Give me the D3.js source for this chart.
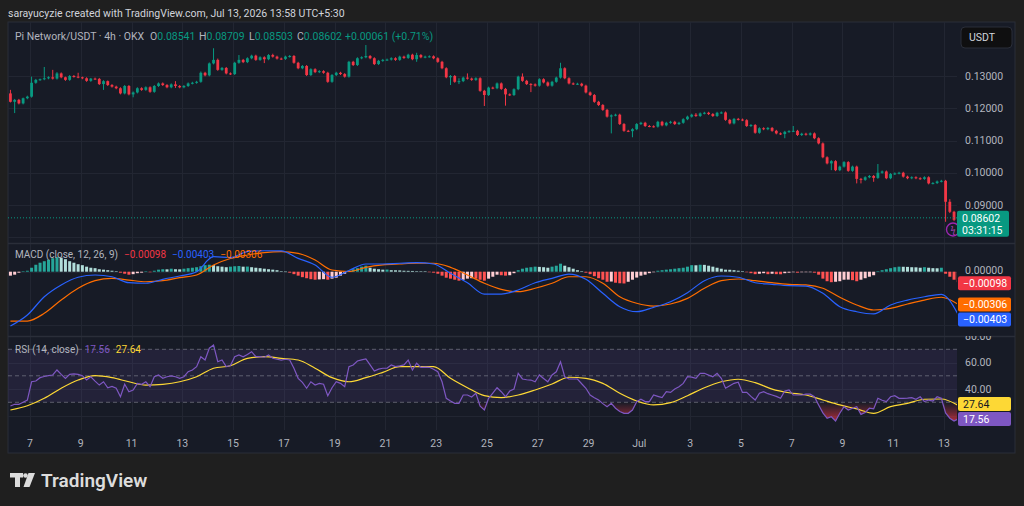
<!DOCTYPE html>
<html>
<head>
<meta charset="utf-8">
<script src="https://cdn.jsdelivr.net/npm/d3@7.9.0/dist/d3.min.js"></script>
<style>
  body { margin: 0; background: #1f1f1f; }
  svg { display: block; font-family: Roboto, "Noto Sans", sans-serif; }
</style>
</head>
<body>
<svg id="chart" width="1024" height="506"></svg>
<script>
// Pi Network/USDT, 4h candles from Jun 6 05:30 to Jul 13 13:30 (UTC+5:30)
const firstOpen = 0.1246;
const closes = [
  .1220,.1226,.1215,.1231,.1236,.1279,.1288,.1290,.1293,.1296,
  .1292,.1308,.1296,.1288,.1300,.1298,.1296,.1293,.1285,.1292,
  .1291,.1275,.1284,.1272,.1267,.1262,.1246,.1269,.1243,.1249,
  .1262,.1257,.1265,.1251,.1269,.1277,.1272,.1265,.1274,.1269,
  .1265,.1269,.1277,.1279,.1282,.1310,.1302,.1339,.1350,.1319,
  .1325,.1308,.1306,.1341,.1350,.1343,.1355,.1363,.1350,.1358,
  .1352,.1365,.1360,.1354,.1353,.1360,.1362,.1341,.1324,.1331,
  .1303,.1321,.1312,.1315,.1310,.1282,.1303,.1310,.1306,.1298,
  .1344,.1334,.1355,.1358,.1362,.1355,.1337,.1347,.1350,.1351,
  .1355,.1350,.1360,.1356,.1366,.1352,.1365,.1358,.1360,.1361,
  .1355,.1344,.1324,.1296,.1300,.1282,.1284,.1295,.1292,.1288,
  .1293,.1254,.1241,.1264,.1262,.1277,.1260,.1243,.1241,.1259,
  .1298,.1285,.1275,.1274,.1270,.1290,.1280,.1270,.1282,.1295,
  .1324,.1293,.1277,.1275,.1276,.1270,.1249,.1241,.1220,.1210,
  .1195,.1174,.1178,.1180,.1151,.1130,.1129,.1135,.1151,.1155,
  .1145,.1144,.1143,.1158,.1147,.1155,.1158,.1151,.1155,.1166,
  .1174,.1180,.1176,.1184,.1186,.1182,.1176,.1186,.1187,.1164,
  .1153,.1167,.1165,.1163,.1145,.1148,.1124,.1138,.1135,.1139,
  .1130,.1122,.1120,.1127,.1129,.1130,.1117,.1121,.1118,.1122,
  .1107,.1091,.1048,.1029,.1036,.1008,.1019,.1033,.1006,.1019,
  .0981,.0978,.0986,.0990,.0984,.1000,.1004,.0983,.0996,.0998,
  .1000,.0988,.0983,.0986,.0983,.0981,.0986,.0967,.0968,.0973,
  .0975,.0910,.0879,.08541,.08602
];
// wick lengths beyond the body, in units of 0.0001 USDT
const wickUp = [
  11,3,3,2,3,19,3,2,35,3,  23,4,3,2,3,3,12,2,3,2,  3,3,3,2,3,3,3,3,3,3,
  3,3,3,3,3,3,3,3,3,10,    3,3,3,3,3,4,3,3,36,4,   3,3,3,3,15,3,3,3,3,3,
  3,3,4,3,3,3,3,3,3,3,     3,3,3,3,3,3,3,3,3,3,    3,3,3,3,34,3,3,3,3,3,
  3,3,3,3,3,3,7,3,3,3,     3,3,3,3,3,3,9,3,13,3,   3,3,3,3,3,3,3,3,3,3,
  3,10,3,3,3,3,3,3,3,3,    17,3,3,3,3,3,3,3,3,3,   3,3,3,3,3,3,3,3,3,3,
  3,3,3,3,3,3,3,3,3,3,     3,3,5,3,3,3,3,3,3,3,    3,3,3,3,3,3,3,3,3,3,
  3,3,3,3,3,15,3,3,3,3,    3,3,3,3,3,3,3,3,3,3,    3,3,3,3,3,27,3,3,3,3,
  3,3,3,3,3,3,3,3,3,3,     3,3,8,3,10.7
];
const wickDn = [
  2,35,3,3,3,3,3,3,3,3,    3,3,3,3,3,3,3,3,3,3,    3,3,18,3,3,3,3,3,3,9,
  3,3,3,3,3,3,3,3,3,6,     3,3,3,3,3,3,3,3,3,3,    3,3,3,3,3,3,3,3,3,3,
  12,3,3,3,3,3,3,3,3,3,    3,3,3,3,3,3,3,3,3,3,    3,3,3,3,3,3,3,3,3,3,
  3,3,3,3,3,3,8,3,3,3,     3,3,3,3,24,3,7,3,3,3,   3,3,34,3,3,3,3,35,3,3,
  3,3,3,24,3,3,3,3,3,3,    3,3,3,3,3,3,3,3,3,3,    3,3,52,3,3,3,3,19,3,3,
  3,3,3,3,3,3,3,3,3,3,     3,3,3,3,3,3,3,3,3,3,    3,3,3,3,3,3,3,3,3,3,
  3,3,3,13,3,3,3,3,3,3,    3,3,3,3,21,3,3,3,3,3,   14,11,3,3,12,3,3,3,3,3,
  3,3,3,3,3,3,3,3,3,3,     3,62,4,4,3.8
];
// MACD histogram per candle, units of 0.00001
const macdHist = [
  -37,-28,-9,2,9,37,65,84,98,112,      126,136,131,117,98,84,70,61,47,37,
  33,23,19,14,9,5,-9,-19,-28,-23,      -14,-9,3,-5,9,19,23,22,28,23,
  22,28,33,37,42,51,61,65,61,51,       47,42,47,51,53,47,48,42,37,33,
  28,23,19,14,5,1,-9,-23,-37,-51,      -61,-70,-75,-72,-70,-75,-65,-56,-37,-19,
  9,23,33,47,56,37,28,23,19,20,        14,13,12,9,8,7,5,4,2,-1,
  -9,-19,-37,-56,-65,-75,-84,-75,-65,-61, -65,-75,-84,-65,-47,-28,-33,-37,-33,-14,
  14,28,37,42,47,45,42,37,47,56,       75,56,42,28,14,5,-9,-23,-42,-61,
  -75,-94,-92,-103,-108,-110,-94,-75,-55,-37, -28,-14,-5,9,14,19,23,28,33,37,
  47,61,60,65,64,56,47,37,28,19,       18,14,9,5,-5,-14,-23,-19,-14,-23,
  -19,-23,-24,-14,-9,-5,-9,-5,-4,-3,   -9,-28,-65,-89,-98,-94,-89,-75,-74,-79,
  -89,-75,-61,-47,-33,5,14,23,33,42,   47,46,45,42,41,37,42,37,33,32,
  37,-19,-47,-75,-98
];
// MACD and signal lines, every 4th candle, units of 0.00001
const macdLine = [
  -508,-405,-234,-124,-52,-31,-47,-103,-108,-71,-40,0,140,131,187,196,194,125,63,
  -52,11,72,72,79,84,72,-15,-103,-209,-209,-171,-103,-62,-22,-71,-202,-327,-374,
  -333,-281,-196,-84,-40,-52,-103,-118,-131,-134,-202,-327,-374,-395,-311,-265,-234,-211,-403
];
const signalLine = [
  -461,-461,-389,-265,-155,-84,-62,-78,-94,-84,-56,-31,63,123,156,178,187,172,109,
  16,2,41,63,72,79,79,41,-31,-108,-165,-187,-155,-108,-47,-47,-108,-234,-295,
  -321,-302,-249,-155,-84,-68,-84,-103,-118,-124,-155,-239,-311,-358,-342,-302,-265,-239,-306
];
// RSI(14) per candle
const rsiValues = [
  27.2,28.5,28.5,30,31.7,45.5,46.1,48.6,49.5,50.1,   50.6,54.4,51.1,48.1,51.1,51.5,51.1,50.1,46.8,49.3,
  46,43,45.5,41,42,40.6,34.2,43.6,38,39.3,           44.3,43.6,45.5,41.8,49.3,50.6,48.1,49.3,50,49.3,
  48.1,49.3,53.1,54.4,56.9,64.4,61.9,70.8,73.2,60.6, 61.9,56.9,57.7,64.4,65.7,64.4,66,68.2,64.4,64.4,
  64,65.7,63.2,62.5,61.9,62.5,61.9,55.7,48.1,45,     40.6,45.5,43,44.3,43.6,35,41,45.5,44.3,41.8,
  56.9,58.2,61.2,62,62.7,58.2,53.6,55,55.7,55.7,     58.2,56.9,57.5,58.2,61.9,54.4,59.5,56.4,56.5,56.4,
  55,53.1,45.5,33,31,29.2,29.2,35.5,35.5,34,         36.8,27,24.2,33,37,41,38,34.2,38.5,40,
  51.9,47.6,47,46.8,45.5,50.6,48,45.5,50.6,53,       60.6,49.3,47.6,47.6,47.6,44,40.6,35.5,33.5,31.7,
  29,26.7,29.2,25.5,23,21.7,21.7,24.2,30.5,32.3,     30.5,30.5,35.5,34.5,33.5,38,37.5,40,41.8,44.3,
  49.3,49,48.1,51.9,51.9,50.5,49.3,51.9,48.1,40.6,   42.5,44.3,45.2,37.5,37.5,34.5,31.7,36.8,38,36.5,
  35.5,34.5,33,38.6,39.3,35.5,35.5,35.5,36.1,36.1,   34.2,28,22,17.9,19.1,15.9,21.7,26.7,24.2,25.5,
  26.7,20.9,22.3,25.5,25,33,31.5,30.5,34.2,35,       33,33,33.2,33.5,32.3,34.2,30.5,31.7,31,34.2,
  33,22,18,15.9,17.56
];
// RSI moving average, every 4th candle
const rsiMa = [
  24.2,27.4,33,40.6,46.8,50.1,48.6,45.5,43,43.6,45.5,49.3,55.7,57.6,63.2,64.4,63.2,61.9,55.7,
  48.6,45.5,48.6,52.6,56.9,56.9,56.9,48.1,41,35,33.5,35.5,39.3,43.8,48.9,48.1,44.3,36.8,31,
  28,29.7,35,41,45.5,47.4,44.8,40,37.2,35.5,31.7,28,25,21.7,26.7,29.2,32.3,32.5,27.64
];
const tickDates = ["2026-06-07","2026-06-09","2026-06-11","2026-06-13","2026-06-15","2026-06-17",
  "2026-06-19","2026-06-21","2026-06-23","2026-06-25","2026-06-27","2026-06-29","2026-07-01",
  "2026-07-03","2026-07-05","2026-07-07","2026-07-09","2026-07-11","2026-07-13"];
const tickLabels = ["7","9","11","13","15","17","19","21","23","25","27","29","Jul","3","5","7","9","11","13"];
const priceTicks = [0.13, 0.12, 0.11, 0.10, 0.09, 0.08];
const macdTicks = [0, -0.005];
const rsiTicks = [80, 60, 40, 20];
const rsiLevels = [70, 50, 30];

// colours
const upCol = "#089981", downCol = "#f23645";
const textCol = "#b2b5be", gridCol = "#222632", paneLine = "#2a2e39";

const svg = d3.select("#chart");
const frame = { left: 8, right: 1015, top: 22, bottom: 453 };
const plotRight = 957;
const mainPane = [22, 243], macdPane = [243, 336], rsiPane = [336, 430];

const barStart = Date.UTC(2026, 5, 6, 5, 30);
const barTime = i => new Date(barStart + i * 4 * 3600 * 1000);

const x = d3.scaleUtc()
  .domain([new Date("2026-06-07T00:00Z"), new Date("2026-07-13T00:00Z")])
  .range([30, 944]);
const yP = d3.scaleLinear().domain([0.09, 0.13]).range([205, 76]);
const yM = d3.scaleLinear().domain([-0.005, 0]).range([325.2, 271.7]);
const yR = d3.scaleLinear().domain([30, 70]).range([402.3, 349.3]);

// background + frame
svg.append("rect").attr("width", 1024).attr("height", 506).attr("fill", "#1f1f1f");
svg.append("rect")
  .attr("x", frame.left).attr("y", frame.top)
  .attr("width", frame.right - frame.left).attr("height", frame.bottom - frame.top)
  .attr("fill", "#171b26").attr("stroke", paneLine);

const defs = svg.append("defs");
function makeClip(id, x0, x1, y0, y1) {
  defs.append("clipPath").attr("id", id).append("rect")
    .attr("x", x0).attr("y", y0).attr("width", x1 - x0).attr("height", y1 - y0);
  return `url(#${id})`;
}
const clipMain = makeClip("c-main", frame.left, plotRight, mainPane[0], mainPane[1]);
const clipMacd = makeClip("c-macd", frame.left, plotRight, macdPane[0], macdPane[1]);
const clipRsi = makeClip("c-rsi", frame.left, plotRight, rsiPane[0], rsiPane[1]);
const clipRsiAxis = makeClip("c-rsiax", plotRight, frame.right, rsiPane[0], rsiPane[1]);

function grad(id, color, yFrom, yTo, opFrom, opTo) {
  const g = defs.append("linearGradient").attr("id", id)
    .attr("gradientUnits", "userSpaceOnUse").attr("x1", 0).attr("x2", 0).attr("y1", yFrom).attr("y2", yTo);
  g.append("stop").attr("offset", 0).attr("stop-color", color).attr("stop-opacity", opFrom);
  g.append("stop").attr("offset", 1).attr("stop-color", color).attr("stop-opacity", opTo);
}
grad("g-os", "#f23645", yR(30), yR(14), 0.0, 0.75);
grad("g-ob", "#089981", yR(70), yR(80), 0.0, 0.75);

// grid
const gridG = svg.append("g").attr("stroke", gridCol).attr("stroke-width", 1);
tickDates.forEach(d => {
  const xx = Math.round(x(new Date(d + "T00:00Z"))) + 0.5;
  gridG.append("line").attr("x1", xx).attr("x2", xx).attr("y1", frame.top).attr("y2", rsiPane[1]);
});
priceTicks.forEach(p => {
  const yy = Math.round(yP(p)) + 0.5;
  gridG.append("line").attr("x1", frame.left).attr("x2", plotRight).attr("y1", yy).attr("y2", yy);
});
macdTicks.forEach(v => {
  const yy = Math.round(yM(v)) + 0.5;
  gridG.append("line").attr("x1", frame.left).attr("x2", plotRight).attr("y1", yy).attr("y2", yy);
});
rsiTicks.forEach(v => {
  const yy = Math.round(yR(v)) + 0.5;
  gridG.append("line").attr("x1", frame.left).attr("x2", plotRight).attr("y1", yy).attr("y2", yy);
});

// pane separators
[macdPane[0], rsiPane[0]].forEach(yy => {
  svg.append("line").attr("x1", frame.left).attr("x2", frame.right)
    .attr("y1", yy + 0.5).attr("y2", yy + 0.5).attr("stroke", paneLine).attr("stroke-width", 1.5);
});

// ---- candles ----
const candles = closes.map((c, i) => {
  const o = i === 0 ? firstOpen : closes[i - 1];
  return { t: barTime(i), o, c,
    h: Math.max(o, c) + wickUp[i] * 1e-4,
    l: Math.min(o, c) - wickDn[i] * 1e-4 };
});
const candleG = svg.append("g").attr("clip-path", clipMain);
candleG.selectAll("line").data(candles).join("line")
  .attr("x1", d => x(d.t)).attr("x2", d => x(d.t))
  .attr("y1", d => yP(d.h)).attr("y2", d => yP(d.l))
  .attr("stroke", d => d.c >= d.o ? upCol : downCol).attr("stroke-width", 1);
candleG.selectAll("rect").data(candles).join("rect")
  .attr("x", d => x(d.t) - 1.4).attr("width", 2.8)
  .attr("y", d => yP(Math.max(d.o, d.c)))
  .attr("height", d => Math.max(1, Math.abs(yP(d.o) - yP(d.c))))
  .attr("fill", d => d.c >= d.o ? upCol : downCol);

// current price line
const lastClose = closes[closes.length - 1];
svg.append("line").attr("x1", frame.left).attr("x2", plotRight)
  .attr("y1", yP(lastClose)).attr("y2", yP(lastClose))
  .attr("stroke", upCol).attr("stroke-dasharray", "1,2").attr("stroke-width", 1);

// ---- MACD ----
const macdG = svg.append("g").attr("clip-path", clipMacd);
macdG.selectAll("rect").data(macdHist).join("rect")
  .attr("x", (d, i) => x(barTime(i)) - 1.5).attr("width", 3)
  .attr("y", d => Math.min(yM(0), yM(d * 1e-5)))
  .attr("height", d => Math.max(0.5, Math.abs(yM(d * 1e-5) - yM(0))))
  .attr("fill", (d, i) => {
    const prev = i === 0 ? d : macdHist[i - 1];
    if (d >= 0) return d >= prev ? "#26a69a" : "#b2dfdb";
    return d < prev ? "#ff5252" : "#ffcdd2";
  });
const macdPath = d3.line().curve(d3.curveMonotoneX)
  .x((d, k) => x(barTime(k * 4))).y(d => yM(d * 1e-5));
macdG.append("path").datum(signalLine).attr("d", macdPath)
  .attr("fill", "none").attr("stroke", "#ff6d00").attr("stroke-width", 1.2);
macdG.append("path").datum(macdLine).attr("d", macdPath)
  .attr("fill", "none").attr("stroke", "#2962ff").attr("stroke-width", 1.2);

// ---- RSI ----
const rsiG = svg.append("g").attr("clip-path", clipRsi);
rsiG.append("rect").attr("x", frame.left).attr("width", plotRight - frame.left)
  .attr("y", yR(70)).attr("height", yR(30) - yR(70)).attr("fill", "rgba(126,87,194,0.12)");
rsiLevels.forEach(v => {
  rsiG.append("line").attr("x1", frame.left).attr("x2", plotRight)
    .attr("y1", yR(v)).attr("y2", yR(v))
    .attr("stroke", "#787b86").attr("stroke-dasharray", "4,3").attr("stroke-opacity", 0.7);
});
const rx = (d, i) => x(barTime(i));
rsiG.append("path").datum(rsiValues)
  .attr("d", d3.area().x(rx).y0(yR(30)).y1(d => yR(Math.min(d, 30))))
  .attr("fill", "url(#g-os)");
rsiG.append("path").datum(rsiValues)
  .attr("d", d3.area().x(rx).y0(yR(70)).y1(d => yR(Math.max(d, 70))))
  .attr("fill", "url(#g-ob)");
rsiG.append("path").datum(rsiMa)
  .attr("d", d3.line().curve(d3.curveMonotoneX).x((d, k) => x(barTime(k * 4))).y(d => yR(d)))
  .attr("fill", "none").attr("stroke", "#fdd835").attr("stroke-width", 1.2);
rsiG.append("path").datum(rsiValues)
  .attr("d", d3.line().x(rx).y(d => yR(d)))
  .attr("fill", "none").attr("stroke", "#7e57c2").attr("stroke-width", 1.2);

// ---- right-side value tags (positions first, so axis labels under them can be skipped) ----
const fs = 10.5;
const fmt5 = v => (v < 0 ? "−" : "") + Math.abs(v).toFixed(5);
const histLast = macdHist[macdHist.length - 1] * 1e-5;
const macdLast = macdLine[macdLine.length - 1] * 1e-5;
const sigLast = signalLine[signalLine.length - 1] * 1e-5;
const maLast = rsiMa[rsiMa.length - 1], rsiLast = rsiValues[rsiValues.length - 1];
const yLast = yP(lastClose);
const ySig = yM(sigLast);
const tags = [
  { y: yM(histLast) + 1, label: fmt5(histLast), fill: "#f23645", color: "#ffffff" },
  { y: ySig, label: fmt5(sigLast), fill: "#ff6d00", color: "#ffffff" },
  { y: Math.max(yM(macdLast), ySig + 15), label: fmt5(macdLast), fill: "#2962ff", color: "#ffffff" },
  { y: yR(maLast) - 1.5, label: maLast.toFixed(2), fill: "#fdd835", color: "#131722" },
  { y: Math.max(yR(rsiLast), yR(maLast) + 13.5), label: rsiLast.toFixed(2), fill: "#7e57c2", color: "#ffffff" }
];
const covered = tags.map(t => [t.y - 7, t.y + 7]).concat([[yLast - 7, yLast + 19]]);
const isCovered = yy => covered.some(([a, b]) => yy + 3 > a && yy - 3 < b);

// ---- axes text ----
const axisG = svg.append("g").attr("fill", textCol).attr("font-size", fs);
priceTicks.filter(p => !isCovered(yP(p))).forEach(p => {
  axisG.append("text").attr("x", 965).attr("y", yP(p)).attr("dy", "0.35em").text(p.toFixed(5));
});
macdTicks.filter(v => !isCovered(yM(v))).forEach(v => {
  axisG.append("text").attr("x", 965).attr("y", yM(v) - 1).attr("dy", "0.35em").text(fmt5(v));
});
const rsiAxisG = axisG.append("g").attr("clip-path", clipRsiAxis);
rsiTicks.filter(v => !isCovered(yR(v))).forEach(v => {
  rsiAxisG.append("text").attr("x", 965).attr("y", yR(v)).attr("dy", "0.35em").text(v.toFixed(2));
});
tickDates.forEach((d, i) => {
  axisG.append("text").attr("x", x(new Date(d + "T00:00Z"))).attr("y", 443).attr("dy", "0.35em")
    .attr("text-anchor", "middle").text(tickLabels[i]);
});

// event marker
const ev = svg.append("g");
ev.append("circle").attr("cx", 953).attr("cy", 229.5).attr("r", 6.5)
  .attr("fill", "#171b26").attr("stroke", "#9c27b0").attr("stroke-width", 1.4);
ev.append("text").attr("x", 953).attr("y", 229.5).attr("dy", "0.35em").attr("text-anchor", "middle")
  .attr("font-size", 9).attr("fill", "#ab47bc").text("ϟ");

tags.forEach(t => {
  svg.append("rect").attr("x", plotRight + 1).attr("y", t.y - 7).attr("width", 53).attr("height", 14)
    .attr("rx", 2).attr("fill", t.fill);
  svg.append("text").attr("x", plotRight + 6).attr("y", t.y).attr("dy", "0.35em")
    .attr("font-size", fs).attr("fill", t.color).text(t.label);
});

// last price box
svg.append("rect").attr("x", plotRight).attr("y", yLast - 7).attr("width", 52).attr("height", 26)
  .attr("rx", 2).attr("fill", upCol);
svg.append("text").attr("x", plotRight + 5).attr("y", yLast).attr("dy", "0.35em")
  .attr("font-size", fs).attr("fill", "#ffffff").text(lastClose.toFixed(5));
svg.append("text").attr("x", plotRight + 5).attr("y", yLast + 12.5).attr("dy", "0.35em")
  .attr("font-size", fs).attr("fill", "#ffffff").text("03:31:15");

// currency button
svg.append("rect").attr("x", 961).attr("y", 27).attr("width", 51).attr("height", 21).attr("rx", 4)
  .attr("fill", "#0f0f10").attr("stroke", "#2a2e39");
svg.append("text").attr("x", 969).attr("y", 37.5).attr("dy", "0.35em")
  .attr("font-size", fs).attr("fill", "#d1d4dc").text("USDT");

// ---- header + legends ----
svg.append("text").attr("x", 8).attr("y", 13).attr("dy", "0.35em")
  .attr("font-size", 10.5).attr("fill", "#d1d4dc")
  .text("sarayucyzie created with TradingView.com, Jul 13, 2026 13:58 UTC+5:30");

const leg = svg.append("text").attr("y", 36).attr("dy", "0.35em").attr("font-size", fs);
leg.append("tspan").attr("x", 15).attr("fill", textCol).text("Pi Network/USDT · 4h · OKX");
[["O", "0.08541", 150], ["H", "0.08709", 199], ["L", "0.08503", 249], ["C", "0.08602", 297]].forEach(([k, v, px]) => {
  leg.append("tspan").attr("x", px).attr("fill", textCol).text(k);
  leg.append("tspan").attr("fill", upCol).text(v);
});
leg.append("tspan").attr("x", 345).attr("fill", upCol).text("+0.00061 (+0.71%)");

const mLeg = svg.append("text").attr("x", 15).attr("y", 254).attr("dy", "0.35em").attr("font-size", 10);
mLeg.append("tspan").attr("fill", textCol).text("MACD (close, 12, 26, 9)");
mLeg.append("tspan").attr("dx", 6).attr("fill", "#f23645").text(fmt5(histLast));
mLeg.append("tspan").attr("dx", 6).attr("fill", "#2962ff").text(fmt5(macdLast));
mLeg.append("tspan").attr("dx", 6).attr("fill", "#ff6d00").text(fmt5(sigLast));

const rLeg = svg.append("text").attr("x", 15).attr("y", 349).attr("dy", "0.35em").attr("font-size", 10);
rLeg.append("tspan").attr("fill", textCol).text("RSI (14, close)");
rLeg.append("tspan").attr("dx", 6).attr("fill", "#7e57c2").text(rsiLast.toFixed(2));
rLeg.append("tspan").attr("dx", 6).attr("fill", "#fdd835").text(maLast.toFixed(2));

// ---- TradingView logo ----
const logo = svg.append("g").attr("fill", "#dcdcdc");
logo.append("rect").attr("x", 10).attr("y", 473).attr("width", 13).attr("height", 4.5);
logo.append("rect").attr("x", 15).attr("y", 473).attr("width", 5).attr("height", 14);
logo.append("circle").attr("cx", 25.5).attr("cy", 475.5).attr("r", 2.3);
logo.append("polygon").attr("points", "28.5,473 35,473 29.5,487 23.5,487");
logo.append("text").attr("x", 41).attr("y", 480.5).attr("dy", "0.35em")
  .attr("font-size", 19).attr("font-weight", 600).text("TradingView");
</script>
</body>
</html>
